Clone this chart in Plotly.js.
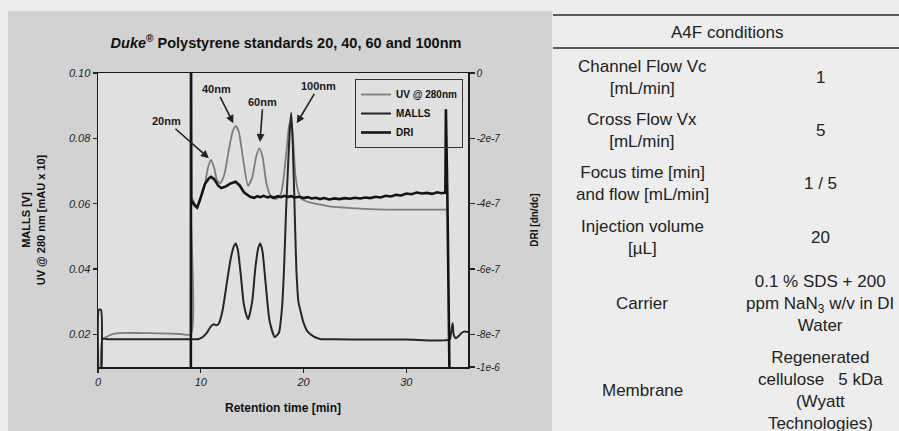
<!DOCTYPE html>
<html><head><meta charset="utf-8">
<script src="https://cdn.plot.ly/plotly-3.0.1.min.js"></script>
<style>html,body{margin:0;padding:0;background:#ececec;} #chart{width:899px;height:431px;}</style>
</head><body><div id="chart"></div>
<script>
// ---- data ----
const uvX = [0.45,0.8,1.2,1.6,2.2,4,6,8,9.05,9.07,9.4,9.65,10.0,10.4,10.7,11.0,11.3,11.6,11.9,12.3,12.7,13.1,13.4,13.7,14.1,14.6,15.0,15.4,15.7,16.0,16.4,16.9,17.4,17.8,18.1,18.4,18.6,18.8,19.0,19.2,19.5,19.8,20.5,21.5,22.5,24,26,28,30,32,33.95];
const uvY = [0.0186,0.0192,0.0198,0.0202,0.0204,0.0204,0.0203,0.0201,0.0200,0.062,0.060,0.0588,0.0615,0.066,0.071,0.0734,0.071,0.067,0.0663,0.069,0.076,0.082,0.0838,0.082,0.074,0.0655,0.068,0.0745,0.0769,0.0745,0.066,0.0618,0.0615,0.063,0.069,0.078,0.084,0.0855,0.079,0.069,0.0635,0.0615,0.0605,0.0598,0.0592,0.0588,0.0584,0.0582,0.0582,0.0582,0.0582];

const mallsX = [0.06,0.1,0.3,0.34,0.45,1,3,5,7,9,9.8,10.2,10.6,11.0,11.25,11.5,11.75,12.1,12.5,12.9,13.2,13.4,13.6,13.9,14.2,14.6,15.0,15.3,15.6,15.8,16.0,16.3,16.7,17.2,17.6,17.9,18.1,18.3,18.5,18.65,18.8,18.95,19.1,19.3,19.5,19.7,20.0,20.4,21.0,21.6,23,26,30,34.2,34.35,34.5,34.6,34.8,35.1,35.4,35.7,36];
const mallsY = [0.005,0.0276,0.0274,0.005,0.0186,0.0185,0.0185,0.0185,0.0185,0.0185,0.0186,0.0192,0.0205,0.0225,0.0231,0.0228,0.0233,0.027,0.035,0.043,0.0468,0.0478,0.046,0.038,0.029,0.0246,0.030,0.040,0.0465,0.0478,0.0455,0.036,0.024,0.0192,0.0205,0.028,0.040,0.058,0.072,0.082,0.0878,0.078,0.062,0.040,0.030,0.0272,0.0235,0.0208,0.0193,0.0186,0.0185,0.0184,0.0184,0.0184,0.0205,0.0234,0.020,0.0188,0.0195,0.0205,0.0209,0.0207];

const driX = [9.03,9.05,9.08,9.4,9.65,10.0,10.4,10.8,11.0,11.3,11.7,12.0,12.4,12.9,13.4,13.8,14.2,14.8,15.2,15.5,15.8,16.1,16.5,16.8,17.1,17.5,17.8,18.1,18.5,18.8,19.1,19.6,20.0,20.4,20.8,21.2,21.6,22.0,22.5,23.0,23.5,24.0,24.5,25.0,25.5,26.0,26.5,27.0,27.5,28.0,28.5,29.0,29.5,30.0,30.5,31.0,31.5,32.0,32.5,33.0,33.4,33.8,33.85,34.0,34.3];
const driY = [-1.2e-6,1e-7,-3.9e-7,-4.05e-7,-4.12e-7,-3.8e-7,-3.4e-7,-3.22e-7,-3.18e-7,-3.25e-7,-3.45e-7,-3.52e-7,-3.48e-7,-3.38e-7,-3.33e-7,-3.45e-7,-3.65e-7,-3.79e-7,-3.82e-7,-3.77e-7,-3.80e-7,-3.76e-7,-3.81e-7,-3.78e-7,-3.82e-7,-3.77e-7,-3.80e-7,-3.76e-7,-3.79e-7,-3.77e-7,-3.81e-7,-3.79e-7,-3.83e-7,-3.80e-7,-3.84e-7,-3.82e-7,-3.86e-7,-3.83e-7,-3.87e-7,-3.84e-7,-3.86e-7,-3.83e-7,-3.85e-7,-3.82e-7,-3.84e-7,-3.81e-7,-3.83e-7,-3.79e-7,-3.81e-7,-3.76e-7,-3.78e-7,-3.73e-7,-3.75e-7,-3.69e-7,-3.71e-7,-3.66e-7,-3.69e-7,-3.67e-7,-3.70e-7,-3.65e-7,-3.68e-7,-3.66e-7,-1.11e-7,-3.9e-7,-1.2e-6];

const seriesNames = ['UV @ 280nm','MALLS','DRI'];
const peakLabels = ['20nm','40nm','60nm','100nm'];
const peakX = [10.79,13.17,15.76,19.34];
const peakY = [0.0739,0.0846,0.0789,0.0846];

const xTicks = [0,10,20,30];
const leftTicks = [0.02,0.04,0.06,0.08,0.10];
const rightTicks = [0,-2e-7,-4e-7,-6e-7,-8e-7,-9e-7];
const rightTickText = ['0','-2e-7','-4e-7','-6e-7','-8e-7','-1e-6'];

const tableHeader = 'A4F conditions';
const tableLabels = ['Channel Flow Vc<br>[mL/min]','Cross Flow Vx<br>[mL/min]','Focus time [min]<br>and flow [mL/min]','Injection volume<br>[µL]','Carrier','Membrane'];
const tableValues = ['1','5','1 / 5','20','0.1 % SDS + 200<br>ppm NaN<sub>3</sub> w/v in DI<br>Water','Regenerated<br>cellulose\u00a0\u00a0 5 kDa<br>(Wyatt<br>Technologies)'];

// ---- layout helpers (pixel -> paper) ----
const W = 899, H = 431;
const px = v => v / W;
const py = v => 1 - v / H;
const FONT = 'Liberation Sans, Arial, sans-serif';

const traces = [
  {x: uvX, y: uvY, name: seriesNames[0], mode: 'lines', yaxis: 'y',
   line: {color: '#7c7c7c', width: 1.8, shape: 'spline', smoothing: 0.6}},
  {x: mallsX, y: mallsY, name: seriesNames[1], mode: 'lines', yaxis: 'y',
   line: {color: '#262626', width: 2, shape: 'spline', smoothing: 0.6}},
  {x: driX, y: driY, name: seriesNames[2], mode: 'lines', yaxis: 'y2',
   line: {color: '#141414', width: 2.6}}
];

const annotations = [];
const arrowOffsets = [[-42,-37],[-17,-34],[3,-40],[22,-37]];
peakLabels.forEach((t, i) => {
  annotations.push({x: peakX[i], y: peakY[i], xref: 'x', yref: 'y', text: t,
    showarrow: true, arrowhead: 2, arrowsize: 1, arrowwidth: 1.6, arrowcolor: '#222',
    ax: arrowOffsets[i][0], ay: arrowOffsets[i][1],
    font: {family: FONT, size: 11, weight: 'bold', color: '#1a1a1a'}});
});

// table
const rowY = [77,130,183,238,303,390];
annotations.push({xref: 'paper', yref: 'paper', x: px(727), y: py(33), text: tableHeader,
  showarrow: false, xanchor: 'center', yanchor: 'middle',
  font: {family: FONT, size: 17, color: '#222'}});
tableLabels.forEach((t, i) => {
  annotations.push({xref: 'paper', yref: 'paper', x: px(642), y: py(rowY[i]), text: t,
    showarrow: false, xanchor: 'center', yanchor: 'middle', align: 'center',
    font: {family: FONT, size: 17, color: '#222'}});
  annotations.push({xref: 'paper', yref: 'paper', x: px(820), y: py(rowY[i]), text: tableValues[i],
    showarrow: false, xanchor: 'center', yanchor: 'middle', align: 'center',
    font: {family: FONT, size: 17, color: '#222'}});
});

const shapes = [
  {type: 'rect', xref: 'paper', yref: 'paper', x0: px(8), x1: px(552), y0: 0, y1: py(11),
   fillcolor: '#d2d2d2', line: {width: 0}, layer: 'below'},
  {type: 'rect', xref: 'paper', yref: 'paper', x0: px(98), x1: px(468), y0: py(367), y1: py(73),
   fillcolor: '#e0e0e0', line: {width: 0}, layer: 'below'},
  {type: 'line', xref: 'paper', yref: 'paper', x0: px(553), x1: 1, y0: py(15), y1: py(15),
   line: {color: '#2a2a2a', width: 1.5}},
  {type: 'line', xref: 'paper', yref: 'paper', x0: px(553), x1: 1, y0: py(48), y1: py(48),
   line: {color: '#2a2a2a', width: 1.5}}
];

const tickFont = {family: FONT, size: 11, style: 'italic', color: '#222'};

const layout = {
  width: W, height: H,
  margin: {l: 0, r: 0, t: 0, b: 0},
  paper_bgcolor: '#ededed',
  plot_bgcolor: 'rgba(0,0,0,0)',
  showlegend: true,
  title: {text: '<i>Duke</i><sup>®</sup> Polystyrene standards 20, 40, 60 and 100nm',
    x: px(286), y: py(43), xref: 'paper', yref: 'paper', xanchor: 'center', yanchor: 'middle',
    font: {family: FONT, size: 14.5, weight: 'bold', color: '#111'}},
  xaxis: {domain: [px(98), px(468)], range: [0, 36], tickvals: xTicks,
    ticks: 'outside', ticklen: 4, tickwidth: 1.2, tickcolor: '#222',
    showline: true, linecolor: '#1a1a1a', linewidth: 1.5, mirror: true,
    showgrid: false, zeroline: false, tickfont: tickFont,
    title: {text: 'Retention time [min]', standoff: 17,
      font: {family: FONT, size: 12, weight: 'bold', color: '#111'}}},
  yaxis: {domain: [py(367), py(73)], range: [0.01, 0.10], tickvals: leftTicks,
    tickformat: '.2f', ticks: 'outside', ticklen: 4, tickwidth: 1.2, tickcolor: '#222',
    showline: true, linecolor: '#1a1a1a', linewidth: 1.5,
    showgrid: false, zeroline: false, tickfont: tickFont,
    title: {text: 'MALLS [V]<br>UV @ 280 nm [mAU x 10]', standoff: 21,
      font: {family: FONT, size: 11, weight: 'bold', color: '#111'}}},
  yaxis2: {overlaying: 'y', side: 'right', range: [-9e-7, 0], tickvals: rightTicks,
    ticktext: rightTickText, ticks: 'outside', ticklen: 5, tickwidth: 1.2, tickcolor: '#222',
    showline: true, linecolor: '#1a1a1a', linewidth: 1.5,
    showgrid: false, zeroline: false,
    tickfont: {family: FONT, size: 10, style: 'italic', color: '#222'},
    title: {text: 'DRI [dn/dc]', standoff: 31,
      font: {family: FONT, size: 10, weight: 'bold', color: '#111'}}},
  legend: {x: px(463), y: py(79), xanchor: 'right', yanchor: 'top',
    bgcolor: 'rgba(0,0,0,0)', bordercolor: '#333', borderwidth: 1,
    itemwidth: 30, tracegroupgap: 0,
    font: {family: FONT, size: 10, weight: 'bold', color: '#111'}},
  annotations: annotations,
  shapes: shapes
};

Plotly.newPlot('chart', traces, layout, {staticPlot: true, displayModeBar: false});
</script>
</body></html>
